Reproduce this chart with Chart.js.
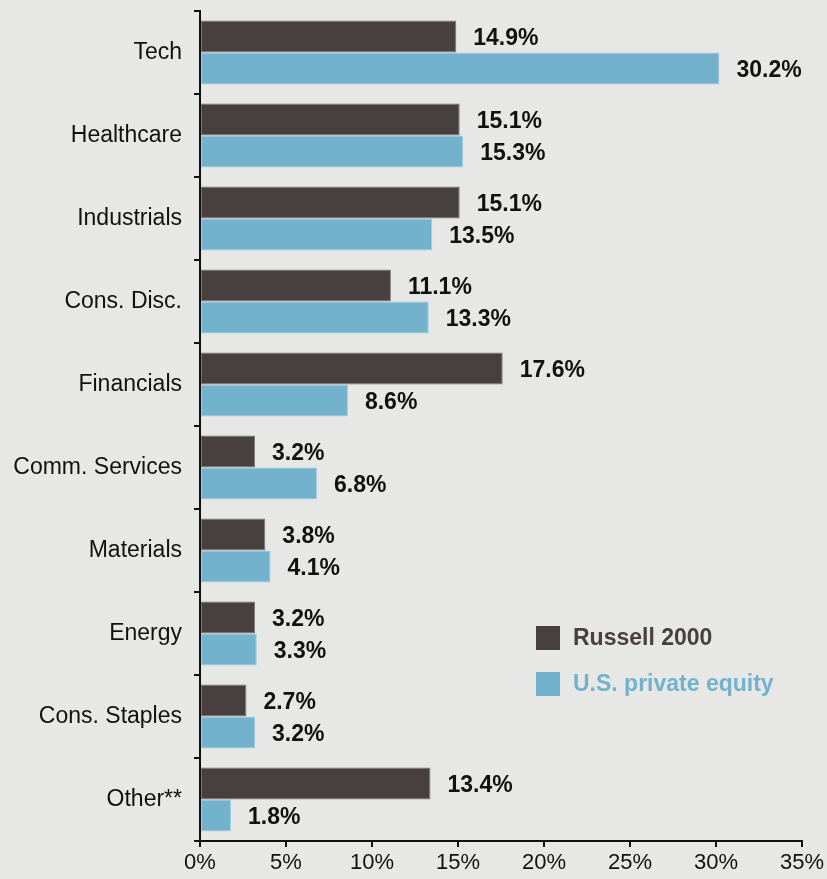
<!DOCTYPE html>
<html>
<head>
<meta charset="utf-8">
<script src="https://cdn.jsdelivr.net/npm/chart.js@4.4.1/dist/chart.umd.min.js"></script>
<style>
  html, body { margin: 0; padding: 0; background: #e7e7e5; }
  #wrap { width: 827px; height: 879px; position: relative; }
</style>
</head>
<body>
<div id="wrap"><canvas id="sector-chart"></canvas></div>
<script>
var sectors = ['Tech', 'Healthcare', 'Industrials', 'Cons. Disc.', 'Financials',
    'Comm. Services', 'Materials', 'Energy', 'Cons. Staples', 'Other**'];
var russell2000 = [14.9, 15.1, 15.1, 11.1, 17.6, 3.2, 3.8, 3.2, 2.7, 13.4];
var privateEquity = [30.2, 15.3, 13.5, 13.3, 8.6, 6.8, 4.1, 3.3, 3.2, 1.8];
var xTicks = [0, 5, 10, 15, 20, 25, 30, 35];

var darkColor = '#483f3f';
var blueColor = '#72b2cc';
var fontFamily = 'Liberation Sans, Arial, Helvetica, sans-serif';

Chart.defaults.font.family = fontFamily;

// value labels to the right of each bar
var barLabels = {
    id: 'barLabels',
    afterDatasetsDraw: function(chart) {
        var ctx = chart.ctx;
        ctx.save();
        ctx.font = 'bold 23px ' + fontFamily;
        ctx.fillStyle = '#111';
        ctx.textAlign = 'left';
        ctx.textBaseline = 'middle';
        chart.data.datasets.forEach(function(ds, i) {
            chart.getDatasetMeta(i).data.forEach(function(bar, j) {
                ctx.fillText(ds.data[j].toFixed(1) + '%', bar.x + 17, bar.y + 2);
            });
        });
        ctx.restore();
    }
};

// legend drawn inside the plot, lower right
var innerLegend = {
    id: 'innerLegend',
    afterDraw: function(chart) {
        var ctx = chart.ctx;
        ctx.save();
        ctx.font = 'bold 23px ' + fontFamily;
        ctx.textBaseline = 'middle';
        chart.data.datasets.forEach(function(ds, i) {
            var y = 638 + i * 46;
            ctx.fillStyle = ds.backgroundColor;
            ctx.fillRect(536, y - 12, 24, 24);
            ctx.fillText(ds.label, 573, y + 1);
        });
        ctx.restore();
    }
};

var ctx = document.getElementById('sector-chart').getContext('2d');

var chart = new Chart(ctx, {
    type: 'bar',
    data: {
        labels: sectors,
        datasets: [{
            label: 'Russell 2000',
            data: russell2000,
            backgroundColor: darkColor,
            borderColor: '#7a7676',
            borderWidth: 1,
            borderSkipped: false
        }, {
            label: 'U.S. private equity',
            data: privateEquity,
            backgroundColor: blueColor,
            borderColor: '#9ccbdd',
            borderWidth: 1,
            borderSkipped: false
        }]
    },
    options: {
        indexAxis: 'y',
        responsive: true,
        maintainAspectRatio: false,
        animation: false,
        layout: {
            padding: { top: 11, right: 21, left: 0, bottom: 0 }
        },
        datasets: {
            bar: { categoryPercentage: 0.77, barPercentage: 1.0 }
        },
        plugins: {
            legend: { display: false },
            tooltip: { enabled: false }
        },
        scales: {
            x: {
                min: 0,
                max: 35,
                afterBuildTicks: function(scale) {
                    scale.ticks = xTicks.map(function(v) { return { value: v }; });
                },
                afterFit: function(scale) { scale.height = 38; },
                border: { display: true, color: '#111', width: 2 },
                grid: {
                    drawOnChartArea: false,
                    drawTicks: true,
                    tickLength: 6,
                    color: '#111',
                    lineWidth: 2
                },
                ticks: {
                    color: '#111',
                    padding: 3,
                    font: { size: 22 },
                    callback: function(v) { return v + '%'; }
                }
            },
            y: {
                afterFit: function(scale) {
                    scale.width = 200;
                    scale.paddingTop = 0;
                    scale.paddingBottom = 0;
                },
                border: { display: true, color: '#111', width: 2 },
                grid: {
                    offset: true,
                    drawOnChartArea: false,
                    drawTicks: true,
                    tickLength: 6,
                    color: '#111',
                    lineWidth: 2
                },
                ticks: {
                    color: '#111',
                    padding: 12,
                    font: { size: 23 }
                }
            }
        }
    },
    plugins: [barLabels, innerLegend]
});
</script>
</body>
</html>
